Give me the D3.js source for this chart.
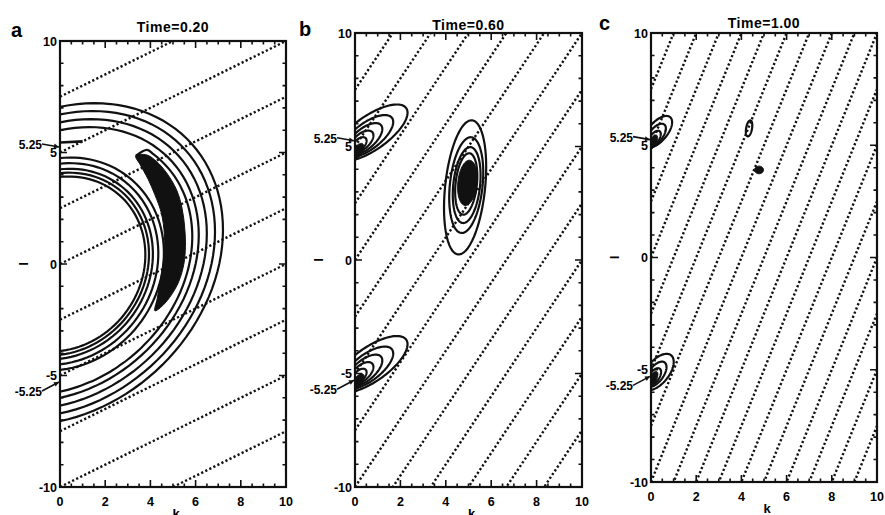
<!DOCTYPE html>
<html>
<head>
<meta charset="utf-8">
<script src="https://cdn.jsdelivr.net/npm/d3@7"></script>
<style>
  body { margin: 0; background: #fff; }
  svg { display: block; font-family: "Liberation Sans", Arial, sans-serif; font-weight: bold; }
  .frame { fill: none; stroke: #111; stroke-width: 2.2; }
  .tick { stroke: #111; stroke-width: 1.6; }
  .phase { fill: none; stroke: #111; stroke-width: 2.4; stroke-dasharray: 2.2 2.3; }
  .contour { fill: none; stroke: #111; stroke-width: 2.2; }
  .blob { fill: #111; stroke: #111; stroke-width: 1; }
  .arrow { fill: none; stroke: #111; stroke-width: 1.6; }
</style>
</head>
<body>
<div id="wrapper"></div>
<script>
// ---- data ----
const panelLetters = ["a", "b", "c"]
const panelTitles = ["Time=0.20", "Time=0.60", "Time=1.00"]
const xTicks = [0, 2, 4, 6, 8, 10]
const yTicks = [-10, -5, 0, 5, 10]
const markedL = [5.25, -5.25]
const markedLabels = ["5.25", "-5.25"]
// dotted phase lines: l = slope * k + n * step
const phaseSlopes = [0.5, 1.5, 2.5]
const phaseStep = 2.5

// contours drawn as tilted ellipses: [centre k, centre l, semi-axis a, semi-axis b, tilt deg]
// panel a, closed rings round the origin
const ringsA = [
  [0, 0, 7.94, 6.40, 45],
  [0, 0, 7.55, 6.09, 45],
  [0, 0, 7.15, 5.77, 45],
  [0, 0, 6.76, 5.45, 45],
  [0, 0, 4.94, 4.42, 55],
  [0, 0, 4.68, 4.18, 55],
  [0, 0, 4.42, 3.95, 55],
  [0, 0, 4.24, 3.78, 55],
  [0, 0, 4.06, 3.63, 55]
]
// panel a, open ring running from the lower axis up into the crescent tip
const arcA = [0, 0, 6.44, 5.20, 45]
const arcAngles = [-100, 56]
// panel a, filled crescent outline (k, l)
const crescentA = [
  [3.35, 4.85], [3.84, 4.89], [4.28, 4.59], [4.72, 4.08], [5.16, 3.32], [5.4, 2.5],
  [5.52, 1.6], [5.55, 0.8], [5.48, 0], [5.25, -0.8], [4.85, -1.5], [4.45, -1.95],
  [4.2, -2.1], [4.3, -1.55], [4.45, -0.7], [4.6, 0.3], [4.62, 1.3], [4.48, 2.3],
  [4.2, 3.1], [3.9, 3.8], [3.55, 4.45]
]
const stubA = [[0, 5.45], [1.0, 5.5]]

// panel b
const ringsB = [
  [0.7, 5.6, 1.9, 0.75, 35], [0.55, 5.45, 1.35, 0.58, 37], [0.42, 5.33, 0.95, 0.45, 40],
  [0.3, 5.22, 0.62, 0.33, 42], [0.2, 5.1, 0.38, 0.22, 45],
  [0.7, -4.6, 1.9, 0.75, 35], [0.55, -4.75, 1.35, 0.58, 37], [0.42, -4.87, 0.95, 0.45, 40],
  [0.3, -4.98, 0.62, 0.33, 42], [0.2, -5.1, 0.38, 0.22, 45],
  [4.85, 3.2, 2.97, 0.88, 84], [4.9, 3.3, 2.12, 0.72, 84], [4.92, 3.3, 1.68, 0.59, 84],
  [4.9, 3.35, 1.36, 0.47, 84]
]
const coresB = [
  [0.08, 4.75, 0.45, 0.2, 55], [0.1, -5.4, 0.45, 0.2, 55], [4.95, 3.4, 1.0, 0.42, 84]
]

// panel c
const ringsC = [
  [0.3, 5.6, 0.85, 0.42, 50], [0.22, 5.45, 0.6, 0.3, 52], [0.15, 5.3, 0.4, 0.2, 55],
  [0.3, -5.1, 0.95, 0.5, 52], [0.22, -5.2, 0.65, 0.33, 54], [0.15, -5.3, 0.42, 0.22, 56],
  [4.34, 5.75, 0.36, 0.13, 80]
]
const coresC = [
  [0.05, 5.1, 0.4, 0.16, 60], [0.05, -5.45, 0.42, 0.17, 60], [4.78, 3.9, 0.2, 0.17, 0]
]

const contourSets = [
  { rings: ringsA, cores: [] },
  { rings: ringsB, cores: coresB },
  { rings: ringsC, cores: coresC }
]

// ---- layout ----
const width = 885
const height = 515
const frames = [
  { left: 60, right: 286, top: 41, bottom: 487, titleY: 32, letterX: 11, letterY: 37 },
  { left: 355, right: 582, top: 33, bottom: 487, titleY: 30, letterX: 299, letterY: 36 },
  { left: 651, right: 877, top: 33, bottom: 482, titleY: 28, letterX: 599, letterY: 30 }
]

const svg = d3.select("#wrapper")
  .append("svg")
    .attr("width", width)
    .attr("height", height)

const defs = svg.append("defs")

// point on a tilted ellipse, by parameter angle
const ellipsePoint = (e, deg) => {
  const [cx, cy, a, b, tilt] = e
  const t = deg * Math.PI / 180
  const p = tilt * Math.PI / 180
  return [
    cx + a * Math.cos(t) * Math.cos(p) - b * Math.sin(t) * Math.sin(p),
    cy + a * Math.cos(t) * Math.sin(p) + b * Math.sin(t) * Math.cos(p)
  ]
}
// point on a centred tilted ellipse, by polar angle
const polarPoint = (e, deg) => {
  const [, , a, b, tilt] = e
  const rel = (deg - tilt) * Math.PI / 180
  const r = 1 / Math.sqrt(Math.cos(rel) ** 2 / (a * a) + Math.sin(rel) ** 2 / (b * b))
  const t = deg * Math.PI / 180
  return [r * Math.cos(t), r * Math.sin(t)]
}

frames.forEach((f, i) => {
  const x = d3.scaleLinear().domain([0, 10]).range([f.left, f.right])
  const y = d3.scaleLinear().domain([-10, 10]).range([f.bottom, f.top])
  const g = svg.append("g")

  const clipId = `clip-${i}`
  defs.append("clipPath")
      .attr("id", clipId)
    .append("rect")
      .attr("x", f.left)
      .attr("y", f.top)
      .attr("width", f.right - f.left)
      .attr("height", f.bottom - f.top)

  const plot = g.append("g").attr("clip-path", `url(#${clipId})`)
  const line = d3.line().x(d => x(d[0])).y(d => y(d[1]))

  // dotted phase lines
  const s = phaseSlopes[i]
  const nLow = Math.floor((-10 - 10 * s) / phaseStep)
  const nHigh = Math.ceil(10 / phaseStep)
  plot.selectAll(".phase")
    .data(d3.range(nLow, nHigh + 1))
    .join("path")
      .attr("class", "phase")
      .attr("d", n => line([[0, n * phaseStep], [10, s * 10 + n * phaseStep]]))

  const set = contourSets[i]

  // filled cores
  plot.selectAll(".blob")
    .data(set.cores)
    .join("path")
      .attr("class", "blob")
      .attr("d", e => line.curve(d3.curveLinearClosed)(d3.range(0, 360, 6).map(a => ellipsePoint(e, a))))

  // contour rings
  plot.selectAll(".contour")
    .data(set.rings)
    .join("path")
      .attr("class", "contour")
      .attr("d", e => line.curve(d3.curveLinearClosed)(d3.range(0, 360, 3).map(a => ellipsePoint(e, a))))

  if (i === 0) {
    const arcPts = d3.range(arcAngles[0], arcAngles[1], 3).map(a => polarPoint(arcA, a))
    plot.append("path")
      .attr("class", "contour")
      .attr("d", line.curve(d3.curveCatmullRom)([...arcPts, crescentA[0]]))

    plot.append("path")
      .attr("class", "blob")
      .attr("d", line.curve(d3.curveCatmullRomClosed)(crescentA))

    plot.append("path")
      .attr("class", "contour")
      .style("stroke-width", 2.6)
      .attr("d", line.curve(d3.curveLinear)(stubA))
  }

  // frame
  g.append("rect")
    .attr("class", "frame")
    .attr("x", f.left)
    .attr("y", f.top)
    .attr("width", f.right - f.left)
    .attr("height", f.bottom - f.top)

  // ticks (inward on all four sides)
  const xMinor = d3.range(0, 10.01, 0.5)
  const yMinor = d3.range(-10, 10.01, 1)
  const tickLen = v => (xTicks.includes(v) ? 7 : 3.5)
  const yLen = v => (yTicks.includes(v) ? 7 : 3.5)
  g.selectAll(".xt")
    .data(xMinor)
    .join("path")
      .attr("class", "tick")
      .attr("d", v => `M${x(v)},${f.bottom}v${-tickLen(v)}M${x(v)},${f.top}v${tickLen(v)}`)
  g.selectAll(".yt")
    .data(yMinor)
    .join("path")
      .attr("class", "tick")
      .attr("d", v => `M${f.left},${y(v)}h${yLen(v)}M${f.right},${y(v)}h${-yLen(v)}`)

  // tick labels
  g.selectAll(".xl")
    .data(xTicks)
    .join("text")
      .attr("x", v => x(v))
      .attr("y", f.bottom + 19)
      .attr("text-anchor", "middle")
      .attr("font-size", 12.5)
      .text(v => v)
  g.selectAll(".yl")
    .data(yTicks)
    .join("text")
      .attr("x", f.left - 3)
      .attr("y", v => y(v) + 4.5)
      .attr("text-anchor", "end")
      .attr("font-size", 12.5)
      .text(v => v)

  // 5.25 markers with arrows
  markedL.forEach((m, j) => {
    const ym = y(m)
    const dy = m > 0 ? -3 : 10
    g.append("text")
      .attr("x", f.left - 18)
      .attr("y", ym + (m > 0 ? 2 : 14.5))
      .attr("text-anchor", "end")
      .attr("font-size", 12)
      .text(markedLabels[j])
    const x0 = f.left - 18
    const y0 = ym + dy
    const x1 = f.left - 1
    const y1 = ym + (m > 0 ? 0 : 1)
    const ang = Math.atan2(y1 - y0, x1 - x0)
    g.append("path")
      .attr("class", "arrow")
      .attr("d", `M${x0},${y0}L${x1},${y1}`)
    const hl = 5
    const hw = 2.5
    const bx = x1 - hl * Math.cos(ang)
    const by = y1 - hl * Math.sin(ang)
    g.append("path")
      .attr("fill", "#111")
      .attr("d", `M${x1},${y1}L${bx - hw * Math.sin(ang)},${by + hw * Math.cos(ang)}L${bx + hw * Math.sin(ang)},${by - hw * Math.cos(ang)}Z`)
  })

  // axis names
  g.append("text")
    .attr("x", (f.left + f.right) / 2 + 3)
    .attr("y", f.bottom + 31)
    .attr("text-anchor", "middle")
    .attr("font-size", 13)
    .text("k")
  g.append("text")
    .attr("transform", `translate(${f.left - 37},${y(0)}) rotate(-90)`)
    .attr("text-anchor", "middle")
    .attr("dy", "0.35em")
    .attr("font-size", 13)
    .text("l")

  // title and panel letter
  g.append("text")
    .attr("x", (f.left + f.right) / 2)
    .attr("y", f.titleY)
    .attr("text-anchor", "middle")
    .attr("font-size", 14)
    .attr("letter-spacing", 0.5)
    .text(panelTitles[i])
  g.append("text")
    .attr("x", f.letterX)
    .attr("y", f.letterY)
    .attr("font-size", 20)
    .text(panelLetters[i])
})
</script>
</body>
</html>
